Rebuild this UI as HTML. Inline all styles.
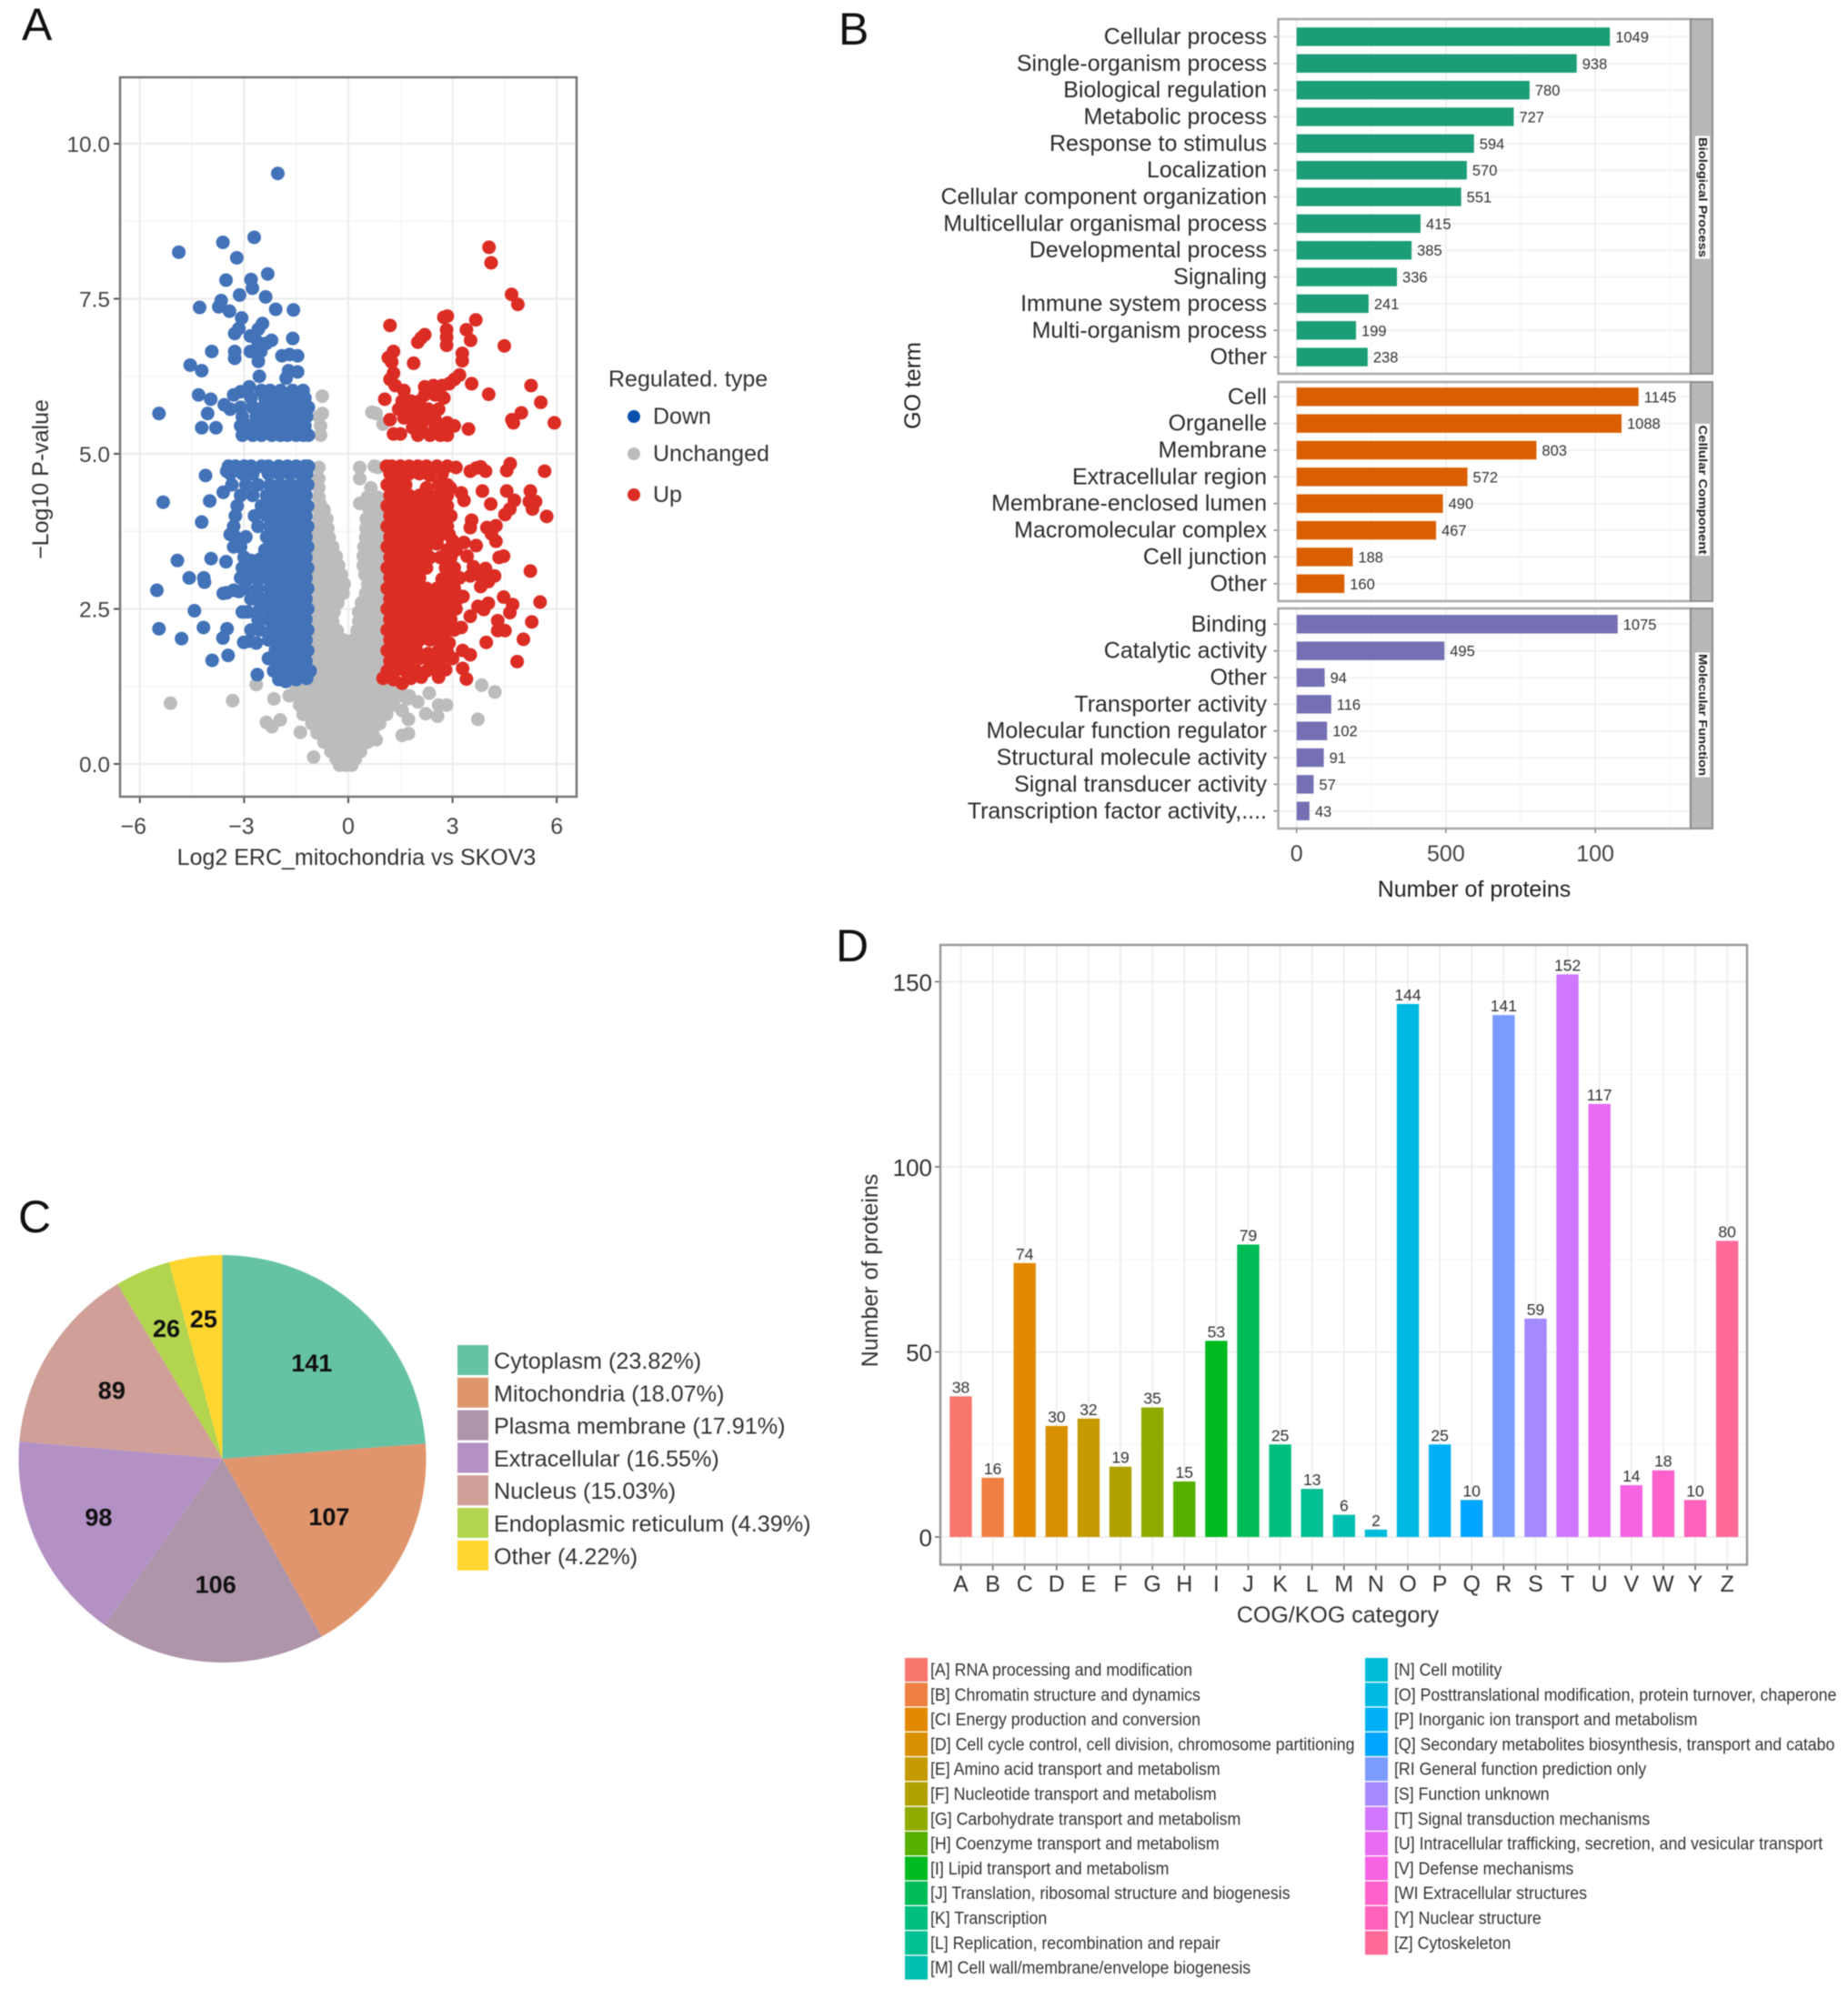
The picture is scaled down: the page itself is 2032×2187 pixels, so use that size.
<!DOCTYPE html>
<html>
<head>
<meta charset="utf-8">
<title>Proteomics figure</title>
<style>
html,body{margin:0;padding:0;background:#fff;}
svg{display:block;filter:blur(0.6px);}
text{font-family:"Liberation Sans",sans-serif;}
</style>
</head>
<body>
<svg id="fig" xmlns="http://www.w3.org/2000/svg" width="2032" height="2187" viewBox="0 0 2032 2187">
<rect x="0" y="0" width="2032" height="2187" fill="#fff"/>
<text x="24" y="44" font-size="50" fill="#111">A</text>
<text x="922" y="49" font-size="50" fill="#111">B</text>
<text x="20" y="1355" font-size="50" fill="#111">C</text>
<text x="919" y="1057" font-size="50" fill="#111">D</text>

<text x="392" y="951" font-size="25" fill="#333" text-anchor="middle">Log2 ERC_mitochondria vs SKOV3</text>
<text transform="translate(53,527) rotate(-90)" font-size="25" fill="#333" text-anchor="middle">−Log10 P-value</text>
<text x="669" y="425" font-size="25" fill="#333">Regulated. type</text>

<text x="1621" y="986" font-size="25" fill="#222" text-anchor="middle">Number of proteins</text>
<text transform="translate(1012,424) rotate(-90)" font-size="25" fill="#222" text-anchor="middle">GO term</text>

<text x="1471" y="1784" font-size="25" fill="#333" text-anchor="middle">COG/KOG category</text>
<text transform="translate(965,1397) rotate(-90)" font-size="25" fill="#333" text-anchor="middle">Number of proteins</text>
<g id="layer"></g>
</svg>
<script>
/* ---------- Panel A: volcano data (log2 ratio, -log10 p) ---------- */
const volcanoXTicks = [-6,-3,0,3,6];
const volcanoXLabels = ['−6','−3','0','3','6'];
const volcanoYTicks = [0,2.5,5,7.5,10];
const volcanoYLabels = ['0.0','2.5','5.0','7.5','10.0'];
const volcanoLegend = ['Down','Unchanged','Up'];
const unchangedPoints = [
[-5.12,.98],[-3.33,1.02],[-2.65,1.28],[-2.14,1.05],[-2.36,.67],[-1.96,.71],[-2.2,.6],[-1.38,.51],[-1,.11],[3.84,1.27],[4.22,1.16],[3.73,.72],[2.33,1.14],[2.83,.95],[2.57,.77],[2.6,.95],[2.23,.81],[2,1],[1.7,1.05],[1.55,.86],[1.73,.72],[1.55,.46],[1.73,.49],[.8,.39],
[-.75,5.93],[-.85,5.6],[-.75,5.65],[-.8,5.45],[-.8,5.3],[.68,5.67],[.8,5.65],[1,5.48],
[-.85,4.78],[.33,4.78],[.75,4.8],[.85,4.78],[-.85,4.6],[.33,4.6],[-.85,4.45],[.65,4.45],
[-.85,4.3],[.55,4.3],[.7,4.3],[.85,4.3],[-.82,4.2],[.33,4.2],[.55,4.2],[.9,4.2],
[-.85,4.1],[-.7,4.1],[.6,4.1],[.75,4.1],[.95,4.1],[-.85,3.95],[-.62,3.95],[.52,3.95],[.7,3.95],[.95,3.95],
[-.95,3.8],[-.75,3.8],[-.59,3.8],[.51,3.8],[.75,3.8],[.95,3.8],[-1,3.65],[-.75,3.65],[-.55,3.65],[.5,3.65],[.7,3.65],[.9,3.65],
[-.95,3.5],[-.65,3.5],[-.45,3.5],[.45,3.5],[.65,3.5],[.85,3.5],[-1,3.35],[-.75,3.35],[-.5,3.35],[-.35,3.35],[.43,3.35],[.6,3.35],[.8,3.35],[1,3.35],
[-1,3.2],[-.75,3.2],[-.5,3.2],[-.28,3.2],[.43,3.2],[.6,3.2],[.75,3.2],[1,3.2],[-1,3.05],[-.7,3.05],[-.45,3.05],[-.2,3.05],[.48,3.05],[.65,3.05],[.75,3.05],[1,3.05],
[-.95,2.9],[-.7,2.9],[-.45,2.9],[-.3,2.9],[-.12,2.9],[.56,2.9],[.7,2.9],[.95,2.9],[-1,2.75],[-.75,2.75],[-.5,2.75],[-.25,2.75],[-.15,2.75],[.5,2.75],[.6,2.75],[.85,2.75],[1.05,2.75],
[-.95,2.6],[-.7,2.6],[-.45,2.6],[-.3,2.6],[.38,2.6],[.6,2.6],[.85,2.6],[1.05,2.6],[-1,2.45],[-.75,2.45],[-.5,2.45],[-.41,2.45],[.3,2.45],[.55,2.45],[.8,2.45],[1.05,2.45],
[-.95,2.3],[-.7,2.3],[-.45,2.3],[.3,2.3],[.55,2.3],[.8,2.3],[1.05,2.3],[-1,2.15],[-.75,2.15],[-.5,2.15],[-.32,2.15],[.25,2.15],[.35,2.15],[.6,2.15],[.85,2.15],[1.05,2.15],
[-.95,2],[-.7,2],[-.45,2],[-.2,2],[-.15,2],[.15,2],[.45,2],[.7,2],[.95,2],[-1,1.85],[-.75,1.85],[-.5,1.85],[-.25,1.85],[.05,1.85],[.3,1.85],[.55,1.85],[.8,1.85],[1,1.85],
[-.95,1.7],[-.7,1.7],[-.45,1.7],[-.2,1.7],[0,1.7],[.25,1.7],[.5,1.7],[.75,1.7],[1,1.7],[-1,1.55],[-.75,1.55],[-.5,1.55],[-.25,1.55],[0,1.55],[.25,1.55],[.5,1.55],[.75,1.55],[1,1.55],
[-1.2,1.4],[-.95,1.4],[-.7,1.4],[-.45,1.4],[-.2,1.4],[.05,1.4],[.3,1.4],[.55,1.4],[.8,1.4],[1.05,1.4],[1.25,1.4],
[-1.5,1.25],[-1.25,1.25],[-1,1.25],[-.75,1.25],[-.5,1.25],[-.25,1.25],[0,1.25],[.25,1.25],[.5,1.25],[.75,1.25],[1,1.25],[1.25,1.25],[1.5,1.25],
[-1.7,1.1],[-1.45,1.1],[-1.2,1.1],[-.95,1.1],[-.7,1.1],[-.45,1.1],[-.2,1.1],[.05,1.1],[.3,1.1],[.55,1.1],[.8,1.1],[1.05,1.1],[1.3,1.1],[1.55,1.1],[1.75,1.1],
[-1.4,.95],[-1.15,.95],[-.9,.95],[-.65,.95],[-.4,.95],[-.15,.95],[.1,.95],[.35,.95],[.6,.95],[.85,.95],[1.1,.95],[1.3,.95],
[-1.3,.8],[-1.05,.8],[-.8,.8],[-.55,.8],[-.3,.8],[-.05,.8],[.2,.8],[.45,.8],[.7,.8],[.95,.8],[1.1,.8],
[-1.05,.65],[-.8,.65],[-.55,.65],[-.3,.65],[-.05,.65],[.2,.65],[.45,.65],[.7,.65],[.9,.65],
[-.9,.5],[-.65,.5],[-.4,.5],[-.15,.5],[.1,.5],[.35,.5],[.55,.5],[.7,.5],
[-.7,.35],[-.45,.35],[-.2,.35],[.05,.35],[.3,.35],[.55,.35],[-.5,.2],[-.25,.2],[0,.2],[.2,.2],[.35,.2],
[-.35,.08],[-.15,.08],[.05,.08],[.2,.08],[-.25,-.02],[-.08,-.02],[.1,-.02]
];
const downPoints = [
[-2.03,9.52],[-4.88,8.25],[-3.61,8.41],[-2.71,8.49],[-3.21,8.16],[-3.52,7.8],[-2.8,7.81],[-2.32,7.9],[-2.76,7.67],[-3.13,7.56],[-2.38,7.53],[-4.28,7.36],[-3.66,7.47],[-3.73,7.37],[-3.42,7.3],[-2.09,7.33],[-1.58,7.32],[-3.07,7.19],[-2.47,7.1],[-2.59,7.01],[-3.15,7.02],[-3.27,6.94],[-2.82,6.9],[-1.6,6.86],[-2.21,6.83],[-2.36,6.78],[-2.6,6.8],[-3.93,6.65],[-3.27,6.65],[-3.27,6.54],[-2.82,6.65],[-2.52,6.65],[-2.59,6.49],[-1.91,6.58],[-1.69,6.6],[-1.46,6.58],[-4.55,6.43],[-4.22,6.34],[-1.72,6.34],[-1.46,6.32],[-1.79,6.22],[-2.56,6.25],
[-4.31,5.95],[-3.96,5.88],[-4.05,5.65],[-5.45,5.65],[-4.22,5.42],[-3.81,5.42],[-3.57,5.79],[-3.3,5.95],[-3.4,5.72],[-3.1,6],[-2.85,6.08],
[-3.05,5.3],[-2.75,5.3],[-2.5,5.3],[-2.2,5.3],[-1.95,5.3],[-1.75,5.3],[-1.5,5.3],[-1.3,5.3],[-1.15,5.3],
[-3.1,5.45],[-2.85,5.45],[-2.55,5.45],[-2.3,5.45],[-2,5.45],[-1.8,5.45],[-1.55,5.45],[-1.25,5.45],
[-3.05,5.6],[-2.65,5.6],[-2.4,5.6],[-2.05,5.6],[-1.8,5.6],[-1.45,5.6],[-1.2,5.6],
[-3.1,5.75],[-2.75,5.75],[-2.45,5.75],[-2.2,5.75],[-1.9,5.75],[-1.65,5.75],[-1.35,5.75],[-1.15,5.75],
[-2.8,5.9],[-2.4,5.9],[-2.1,5.9],[-1.8,5.9],[-1.55,5.9],[-1.25,5.9],[-2.5,6.02],[-2.25,6.02],[-1.95,6.02],[-1.6,6.02],[-1.3,6.02],
[-1.15,4.8],[-1.25,4.8],[-1.5,4.8],[-1.75,4.8],[-2,4.8],[-2.3,4.8],[-2.5,4.8],[-2.8,4.8],[-3,4.8],[-3.25,4.8],[-3.45,4.8],
[-1.2,4.68],[-1.4,4.68],[-1.7,4.68],[-2,4.68],[-2.3,4.68],[-2.75,4.68],[-3.05,4.68],[-3.4,4.68],[-3.5,4.72],[-4.11,4.65],
[-1.17,4.5],[-1.35,4.5],[-1.65,4.5],[-1.95,4.5],[-2.25,4.5],[-2.6,4.5],[-2.95,4.5],[-3.35,4.5],
[-1.22,4.33],[-1.45,4.33],[-1.75,4.33],[-2.05,4.33],[-2.35,4.33],[-2.75,4.33],[-3.1,4.33],[-3.6,4.38],[-5.33,4.22],[-3.99,4.24],
[-1.17,4.16],[-1.35,4.16],[-1.65,4.16],[-1.95,4.16],[-2.25,4.16],[-2.5,4.16],[-3.2,4.16],
[-1.22,4],[-1.45,4],[-1.75,4],[-2.05,4],[-2.35,4],[-2.7,4],[-3.25,4],[-4.22,3.9],
[-1.17,3.83],[-1.35,3.83],[-1.65,3.83],[-1.95,3.83],[-2.25,3.83],[-2.6,3.83],[-3.3,3.83],
[-1.22,3.66],[-1.45,3.66],[-1.75,3.66],[-2.05,3.66],[-2.35,3.66],[-2.95,3.66],[-3.25,3.66],[-3.4,3.7],
[-1.17,3.5],[-1.35,3.5],[-1.65,3.5],[-1.95,3.5],[-2.25,3.5],[-2.4,3.45],[-3.1,3.5],[-3.3,3.5],
[-1.22,3.33],[-1.45,3.33],[-1.75,3.33],[-2.05,3.33],[-2.35,3.33],[-2.55,3.3],[-3,3.33],[-2.8,3.28],[-4.92,3.28],[-3.95,3.31],[-3.52,3.26],
[-1.17,3.16],[-1.35,3.16],[-1.65,3.16],[-1.95,3.16],[-2.25,3.16],[-2.5,3.16],[-2.8,3.12],[-3.05,3.16],
[-1.22,3],[-1.45,3],[-1.75,3],[-2.05,3],[-2.35,3],[-2.6,3],[-2.85,3],[-3.1,3],[-4.58,3],[-4.16,3],[-4.14,2.93],
[-1.17,2.83],[-1.35,2.83],[-1.65,2.83],[-1.95,2.83],[-2.25,2.83],[-2.6,2.83],[-2.95,2.83],[-3.3,2.8],[-3.5,2.76],[-3.15,2.78],[-5.51,2.8],[-3.6,2.75],
[-1.22,2.66],[-1.45,2.66],[-1.75,2.66],[-2.05,2.66],[-2.35,2.66],[-2.5,2.66],[-2.8,2.66],
[-1.17,2.5],[-1.35,2.5],[-1.65,2.5],[-1.95,2.5],[-2.25,2.5],[-2.55,2.5],[-2.9,2.45],[-4.43,2.47],[-3.05,2.45],
[-1.22,2.33],[-1.45,2.33],[-1.75,2.33],[-2.05,2.33],[-2.3,2.33],[-2.6,2.33],
[-1.17,2.16],[-1.35,2.16],[-1.65,2.16],[-1.95,2.16],[-2.2,2.16],[-2.55,2.16],[-2.8,2.16],[-5.45,2.18],[-4.17,2.2],[-3.49,2.18],
[-1.22,2],[-1.45,2],[-1.75,2],[-2.05,2],[-2.3,2],[-2.65,1.95],[-2.85,1.98],[-3.01,1.96],[-4.8,2.02],[-3.61,2.03],
[-1.17,1.83],[-1.35,1.83],[-1.65,1.83],[-1.95,1.83],[-2.1,1.83],
[-1.22,1.66],[-1.45,1.66],[-1.75,1.66],[-2.05,1.66],[-2.3,1.7],[-3.92,1.67],[-3.46,1.75],
[-1.1,1.5],[-1.35,1.5],[-1.65,1.5],[-1.95,1.5],[-2.15,1.5],[-2.62,1.44],
[-1.2,1.38],[-1.5,1.36],[-1.8,1.33],[-2,1.36]
];
const upPoints = [
[4.05,8.33],[4.11,8.08],[4.7,7.57],[4.88,7.41],[3.67,7.16],[2.85,7.22],[2.75,7.2],[1.2,7.07],[3.4,7],[2.83,7],[2.83,6.88],[2.83,6.75],[3.52,6.83],[4.49,6.74],[2.2,6.92],[2.1,6.87],[2,6.8],[1.3,6.65],[1.15,6.55],[1.25,6.48],[3.28,6.62],[3.28,6.5],[1.88,6.46],[1.3,6.3],[1.2,6.2],[3.2,6.27],[3.05,6.2],[3.55,6.13],[5.26,6.1],[4.04,5.96],[5.54,5.83],[4.98,5.66],[4.71,5.55],[4.75,5.5],[5.93,5.5],[3.46,5.4],
[1.05,5.88],[1.35,6.1],[1.6,6.02],[2.2,6.08],[2.45,6.1],[2.7,6.1],[2.9,6.13],[2.2,5.95],[2.5,5.95],[2.75,5.9],[1.55,5.85],[1.8,5.85],[2.05,5.85],[1.45,5.72],[1.75,5.72],[2,5.7],[2.3,5.72],[2.6,5.72],[1.2,5.55],[1.6,5.58],[1.9,5.55],[2.2,5.55],[2.5,5.55],[2.85,5.5],[3.05,5.45],[1.85,5.42],[2.1,5.42],[2.5,5.42],[2.75,5.38],[1.3,5.32],[1.5,5.32],[2,5.3],[2.35,5.3],[2.65,5.3],[2.85,5.3],
[5.65,4.72],[4.66,4.84],[4.56,4.73],[3.81,4.79],[3.95,4.72],[3.51,4.72],[3.68,4.77],[2.94,4.45],[3.25,4.37],[3.33,4.25],[3.86,4.4],[4.1,4.19],[4.56,4.4],[5.24,4.4],[4.78,4.25],[5.21,4.23],[5.39,4.23],[5.3,4.11],[5.71,3.99],[4.65,4.11],[4.51,4.02],[3.55,3.93],[3.51,3.81],[3.99,3.81],[4.25,3.84],[4.12,3.71],[4.25,3.59],[3.68,3.52],[3.33,3.57],[3.42,3.35],[4.47,3.35],[4.34,3.33],[5.24,3.11],[3.6,3.18],[3.95,3.15],[3.51,3.03],[3.81,3.03],[4.21,3.03],[4.03,2.94],[3.81,2.86],[4.47,2.69],[4.73,2.57],[4.65,2.44],[5.52,2.61],[3.51,2.38],[3.73,2.54],[4.03,2.59],[3.9,2.49],[5.28,2.29],[4.3,2.31],[4.3,2.15],[4.51,2.15],[3.97,1.96],[5.04,2.01],[3.29,1.83],[3.51,1.76],[4.86,1.65],[3.29,1.54],[3.4,1.37],[3.25,2.2],[3.3,2.7],
[1.1,4.8],[1.25,4.8],[1.5,4.8],[1.75,4.8],[2,4.8],[2.25,4.8],[2.55,4.8],[2.85,4.8],[3.1,4.78],[1.2,4.68],[1.45,4.68],[1.75,4.68],[2.05,4.68],[2.35,4.65],[2.7,4.68],
[1.12,4.5],[1.35,4.5],[1.65,4.5],[2.25,4.45],[2.6,4.5],[2.85,4.5],
[1.2,4.33],[1.45,4.33],[1.75,4.33],[2.05,4.33],[2.35,4.33],[2.65,4.33],[2.85,4.33],
[1.12,4.16],[1.35,4.16],[1.65,4.16],[1.95,4.16],[2.25,4.16],[2.55,4.16],[2.85,4.16],
[1.2,4],[1.45,4],[1.75,4],[2.05,4],[2.35,4],[2.65,4],[2.95,4],
[1.12,3.83],[1.35,3.83],[1.65,3.83],[1.95,3.83],[2.25,3.83],[2.55,3.83],[2.85,3.83],
[1.2,3.66],[1.45,3.66],[1.75,3.66],[2.05,3.66],[2.35,3.66],[2.6,3.66],[2.9,3.7],[3,3.6],
[1.12,3.5],[1.35,3.5],[1.65,3.5],[1.95,3.5],[2.25,3.5],[2.55,3.55],[2.85,3.45],[3.1,3.45],
[1.2,3.33],[1.45,3.33],[1.75,3.33],[2.05,3.33],[2.35,3.33],[2.65,3.33],[2.95,3.33],
[1.12,3.16],[1.35,3.16],[1.65,3.16],[1.95,3.16],[2.25,3.16],[2.8,3.16],[3.05,3.16],
[1.2,3],[1.45,3],[1.75,3],[2.05,3],[2.7,2.98],[3,3],[3.2,3],
[1.12,2.83],[1.35,2.83],[1.65,2.83],[1.95,2.83],[2.25,2.83],[2.55,2.83],[2.85,2.83],[3.05,2.83],
[1.2,2.66],[1.45,2.66],[1.75,2.66],[2.05,2.66],[2.35,2.66],[2.65,2.66],[2.95,2.66],[3.15,2.66],
[1.12,2.5],[1.35,2.5],[1.65,2.5],[1.95,2.5],[2.25,2.5],[2.55,2.5],[2.85,2.5],[3.1,2.5],
[1.2,2.33],[1.45,2.33],[1.75,2.33],[2.05,2.33],[2.35,2.33],[2.65,2.33],[2.95,2.33],
[1.12,2.16],[1.35,2.16],[1.65,2.16],[1.95,2.16],[2.25,2.16],[2.55,2.16],[2.85,2.16],[3.05,2.16],
[1.2,2],[1.45,2],[1.75,2],[2.05,2],[2.35,2],[2.65,2],[2.9,1.95],
[1.12,1.83],[1.35,1.83],[1.65,1.83],[1.95,1.85],[2.3,1.78],[2.6,1.83],[2.85,1.8],
[1.2,1.66],[1.45,1.66],[1.75,1.66],[2.05,1.7],[2.35,1.66],[2.65,1.66],[3,1.7],
[1.12,1.5],[1.35,1.5],[1.65,1.5],[1.95,1.5],[2.25,1.5],[2.55,1.5],[2.8,1.52],
[1,1.38],[1.3,1.36],[1.55,1.3],[1.8,1.38],[2.1,1.4],[2.6,1.4]
];

/* ---------- Panel B: GO term data ---------- */
const bpTerms = ['Cellular process','Single-organism process','Biological regulation','Metabolic process','Response to stimulus','Localization','Cellular component organization','Multicellular organismal process','Developmental process','Signaling','Immune system process','Multi-organism process','Other'];
const bpValues = [1049,938,780,727,594,570,551,415,385,336,241,199,238];
const ccTerms = ['Cell','Organelle','Membrane','Extracellular region','Membrane-enclosed lumen','Macromolecular complex','Cell junction','Other'];
const ccValues = [1145,1088,803,572,490,467,188,160];
const mfTerms = ['Binding','Catalytic activity','Other','Transporter activity','Molecular function regulator','Structural molecule activity','Signal transducer activity','Transcription factor activity,....'];
const mfValues = [1075,495,94,116,102,91,57,43];
const goTicks = [0,500,1000];
const goTickLabels = ['0','500','100'];

/* ---------- Panel C: pie data ---------- */
const pieLabels = ['Cytoplasm (23.82%)','Mitochondria (18.07%)','Plasma membrane (17.91%)','Extracellular (16.55%)','Nucleus (15.03%)','Endoplasmic reticulum (4.39%)','Other (4.22%)'];
const pieValues = [141,107,106,98,89,26,25];

/* ---------- Panel D: COG/KOG data ---------- */
const cogCategories = ['A','B','C','D','E','F','G','H','I','J','K','L','M','N','O','P','Q','R','S','T','U','V','W','Y','Z'];
const cogValues = [38,16,74,30,32,19,35,15,53,79,25,13,6,2,144,25,10,141,59,152,117,14,18,10,80];
const cogTicks = [0,50,100,150];
const cogLegendLeft = ['[A] RNA processing and modification','[B] Chromatin structure and dynamics','[CI Energy production and conversion','[D] Cell cycle control, cell division, chromosome partitioning','[E] Amino acid transport and metabolism','[F] Nucleotide transport and metabolism','[G] Carbohydrate transport and metabolism','[H] Coenzyme transport and metabolism','[I] Lipid transport and metabolism','[J] Translation, ribosomal structure and biogenesis','[K] Transcription','[L] Replication, recombination and repair','[M] Cell wall/membrane/envelope biogenesis'];
const cogLegendRight = ['[N] Cell motility','[O] Posttranslational modification, protein turnover, chaperone','[P] Inorganic ion transport and metabolism','[Q] Secondary metabolites biosynthesis, transport and catabo','[RI General function prediction only','[S] Function unknown','[T] Signal transduction mechanisms','[U] Intracellular trafficking, secretion, and vesicular transport','[V] Defense mechanisms','[WI Extracellular structures','[Y] Nuclear structure','[Z] Cytoskeleton'];

const SVGNS = 'http://www.w3.org/2000/svg';
const layer = document.getElementById('layer');
function make(tag, attrs, txt){
  const e = document.createElementNS(SVGNS, tag);
  for(const k in attrs){ e.setAttribute(k, attrs[k]); }
  if(txt !== undefined){ e.textContent = txt; }
  layer.appendChild(e);
  return e;
}

/* ---------- Volcano ---------- */
(function(){
  const L=132,R=634,T=85,B=876;
  const sx = v => 383 + v*38.2;
  const sy = v => 840 - v*68.2;
  const dotR = 7.5;
  let el;
  el = make('rect',{x:L,y:T,width:R-L,height:B-T,fill:'#fff'});
  
  
  [-4.5,-1.5,1.5,4.5].forEach(v=>{
    el = make('line',{x1:sx(v),x2:sx(v),y1:T,y2:B,stroke:'#f2f2f2','stroke-width':1});
    
    
  });
  [1.25,3.75,6.25,8.75].forEach(v=>{
    el = make('line',{x1:L,x2:R,y1:sy(v),y2:sy(v),stroke:'#f2f2f2','stroke-width':1});
    
    
  });
  volcanoXTicks.forEach((v,i)=>{
    el = make('line',{x1:sx(v),x2:sx(v),y1:T,y2:B,stroke:'#ebebeb','stroke-width':2});
    
    
    el = make('line',{x1:sx(v),x2:sx(v),y1:B,y2:B+7,stroke:'#555','stroke-width':2});
    
    
    el = make('text',{x:sx(v)-(v<-4?7:(v<0?3:0)),y:917,'font-size':25,fill:'#444','text-anchor':'middle'},volcanoXLabels[i]);
    
    
  });
  volcanoYTicks.forEach((v,i)=>{
    el = make('line',{x1:L,x2:R,y1:sy(v),y2:sy(v),stroke:'#ebebeb','stroke-width':2});
    
    
    el = make('line',{x1:L-7,x2:L,y1:sy(v),y2:sy(v),stroke:'#555','stroke-width':2});
    
    
    el = make('text',{x:L-11,y:sy(v)+9,'font-size':24.5,fill:'#444','text-anchor':'end'},volcanoYLabels[i]);
    
    
  });
  unchangedPoints.forEach(p=>{
    el = make('circle',{cx:sx(p[0]),cy:sy(p[1]),r:dotR,fill:'#bcbcbc'});
    
    
  });
  downPoints.forEach(p=>{
    el = make('circle',{cx:sx(p[0]),cy:sy(p[1]),r:dotR,fill:'#4272b8'});
    
    
  });
  upPoints.forEach(p=>{
    el = make('circle',{cx:sx(p[0]),cy:sy(p[1]),r:dotR,fill:'#dc2d25'});
    
    
  });
  el = make('rect',{x:L,y:T,width:R-L,height:B-T,fill:'none',stroke:'#777','stroke-width':2.5});
  
  
  const legColors = ['#0b4fae','#bcbcbc','#dc2d25'];
  const legY = [458,499,544];
  volcanoLegend.forEach((t,i)=>{
    el = make('circle',{cx:697,cy:legY[i],r:7,fill:legColors[i]});
    
    
    el = make('text',{x:718,y:legY[i]+8,'font-size':25,fill:'#333'},t);
    
    
  });
})();

/* ---------- GO bars ---------- */
(function(){
  const L=1405.5,R=1859,SR=1883;
  const sx = v => 1425.7 + v*0.3284;
  const panels = [
    {terms:bpTerms,vals:bpValues,top:21,bot:411,y0:40.4,color:'#1b9e77',name:'Biological Process',bh:135,tl:132,dy:1},
    {terms:ccTerms,vals:ccValues,top:420,bot:661,y0:436.3,color:'#d95f02',name:'Cellular Component',bh:145,tl:142,dy:-2},
    {terms:mfTerms,vals:mfValues,top:669,bot:911,y0:686.3,color:'#7570b3',name:'Molecular Function',bh:137,tl:134,dy:-4}
  ];
  const rowH = 29.35;
  let el;
  panels.forEach(p=>{
    el = make('rect',{x:L,y:p.top,width:R-L,height:p.bot-p.top,fill:'#fff'});
    
    
    [250,750,1250].forEach(v=>{
      el = make('line',{x1:sx(v),x2:sx(v),y1:p.top,y2:p.bot,stroke:'#f4f4f4','stroke-width':1});
      
      
    });
    goTicks.forEach(v=>{
      el = make('line',{x1:sx(v),x2:sx(v),y1:p.top,y2:p.bot,stroke:'#ececec','stroke-width':1.5});
      
      
    });
    p.terms.forEach((t,i)=>{
      const cy = p.y0 + i*rowH;
      el = make('line',{x1:L,x2:R,y1:cy,y2:cy,stroke:'#efefef','stroke-width':1.5});
      
      
      el = make('line',{x1:L-5,x2:L,y1:cy,y2:cy,stroke:'#888','stroke-width':1.5});
      
      
      el = make('rect',{x:sx(0),y:cy-10.2,width:sx(p.vals[i])-sx(0),height:20.4,fill:p.color});
      
      
      el = make('text',{x:sx(p.vals[i])+6,y:cy+6,'font-size':16.5,fill:'#333'},String(p.vals[i]));
      
      
      el = make('text',{x:1393,y:cy+8,'font-size':25,fill:'#2b2b2b','text-anchor':'end'},t);
      
      
    });
    el = make('rect',{x:L,y:p.top,width:R-L,height:p.bot-p.top,fill:'none',stroke:'#a9a9a9','stroke-width':2.5});
    
    
    el = make('rect',{x:R,y:p.top,width:SR-R,height:p.bot-p.top,fill:'#b8b8b8',stroke:'#8e8e8e','stroke-width':2});
    
    
    const my=(p.top+p.bot)/2+p.dy;
    el = make('rect',{x:R+5,y:my-p.bh/2,width:16,height:p.bh,fill:'#fff'});
    
    
    el = make('text',{transform:'translate('+(R+9)+','+my+') rotate(90)','font-size':12.5,'font-weight':'bold',fill:'#222','text-anchor':'middle',textLength:p.tl,lengthAdjust:'spacingAndGlyphs'},p.name);
    
    
  });
  goTicks.forEach((v,i)=>{
    el = make('line',{x1:sx(v),x2:sx(v),y1:911,y2:916,stroke:'#888','stroke-width':1.5});
    
    
    el = make('text',{x:sx(v),y:947,'font-size':25,fill:'#444','text-anchor':'middle'},goTickLabels[i]);
    
    
  });
})();

/* ---------- Pie ---------- */
(function(){
  const cx=244.5,cy=1604,r=224;
  const colors=['#66c2a5','#e0956c','#ae95aa','#b491c5','#cf9f98','#b2d44f','#ffd62f'];
  const labelRadius=[.645,.595,.615,.67,.64,.7,.695];
  const total=pieValues.reduce((a,b)=>a+b,0);
  let cum=0,el;
  pieValues.forEach((v,i)=>{
    const a0=cum/total*2*Math.PI, a1=(cum+v)/total*2*Math.PI;
    cum+=v;
    const d='M'+cx+' '+cy+'L'+(cx+r*Math.sin(a0))+' '+(cy-r*Math.cos(a0))+'A'+r+' '+r+' 0 '+((a1-a0)>Math.PI?1:0)+' 1 '+(cx+r*Math.sin(a1))+' '+(cy-r*Math.cos(a1))+'Z';
    el = make('path',{d:d,fill:colors[i]});
    
    
  });
  cum=0;
  pieValues.forEach((v,i)=>{
    const m=(cum+v/2)/total*2*Math.PI;
    cum+=v;
    el = make('text',{x:cx+r*labelRadius[i]*Math.sin(m),y:cy-r*labelRadius[i]*Math.cos(m)+10,'font-size':27,'font-weight':'bold',fill:'#111','text-anchor':'middle'},String(v));
    
    
  });
  pieLabels.forEach((t,i)=>{
    const y=1496+i*35.8;
    el = make('rect',{x:503,y:y-17,width:34,height:33,fill:colors[i]});
    
    
    el = make('text',{x:543,y:y+9,'font-size':25.2,fill:'#333'},t);
    
    
  });
})();

/* ---------- COG bars ---------- */
(function(){
  const L=1034,R=1921,T=1039,B=1720.5;
  const colors=['#f8766d','#ee8042','#e38900','#d89000','#c49a00','#b0a100','#8fab00','#55b000','#00ba20','#00bc56','#00bf7d','#00c094','#00bfb0','#00bcd8','#00b9e3','#00b0f6','#00a5ff','#7b9cff','#a58aff','#cf78ff','#e76bf3','#f564e3','#ff61cc','#ff62bc','#ff6a98'];
  const sx = i => 1056.5 + i*35.11;
  const sy = v => 1690 - v*4.07;
  let el;
  [25,75,125].forEach(v=>{
    el = make('line',{x1:L,x2:R,y1:sy(v),y2:sy(v),stroke:'#f5f5f5','stroke-width':1});
    
    
  });
  cogTicks.forEach(v=>{
    el = make('line',{x1:L,x2:R,y1:sy(v),y2:sy(v),stroke:'#ebebeb','stroke-width':1.5});
    
    
    el = make('line',{x1:L-6,x2:L,y1:sy(v),y2:sy(v),stroke:'#666','stroke-width':1.5});
    
    
    el = make('text',{x:L-9,y:sy(v)+10,'font-size':26,fill:'#333','text-anchor':'end'},String(v));
    
    
  });
  cogCategories.forEach((c,i)=>{
    el = make('line',{x1:sx(i),x2:sx(i),y1:T,y2:B,stroke:'#ebebeb','stroke-width':1.5});
    
    
    el = make('rect',{x:sx(i)-12.2,y:sy(cogValues[i]),width:24.4,height:sy(0)-sy(cogValues[i]),fill:colors[i]});
    
    
    el = make('text',{x:sx(i),y:sy(cogValues[i])-4,'font-size':17.5,fill:'#333','text-anchor':'middle'},String(cogValues[i]));
    
    
    el = make('line',{x1:sx(i),x2:sx(i),y1:B,y2:B+6,stroke:'#666','stroke-width':1.5});
    
    
    el = make('text',{x:sx(i),y:1750,'font-size':25,fill:'#333','text-anchor':'middle'},c);
    
    
  });
  el = make('rect',{x:L,y:T,width:R-L,height:B-T,fill:'none',stroke:'#9a9a9a','stroke-width':2.5});
  
  
  /* legend text is horizontally condensed: measure the widest label and fit it to its drawn width */
  const probe = make('text',{x:0,y:0,'font-size':19},cogLegendLeft[3]);
  const measured = probe.getComputedTextLength();
  layer.removeChild(probe);
  const k = measured > 0 ? 467/measured : 0.86;
  cogLegendLeft.forEach((t,i)=>{
    const y=1836+i*27.3;
    el = make('rect',{x:995,y:y-13,width:25,height:26,fill:colors[i]});
    
    
    el = make('text',{transform:'translate(1023,'+(y+6.5)+') scale('+k+',1)','font-size':19,fill:'#333'},t);
    
    
  });
  cogLegendRight.forEach((t,i)=>{
    const y=1836+i*27.3;
    el = make('rect',{x:1501,y:y-13,width:25,height:26,fill:colors[i+13]});
    
    
    el = make('text',{transform:'translate(1533,'+(y+6.5)+') scale('+k+',1)','font-size':19,fill:'#333'},t);
    
    
  });
})();
</script>
</body>
</html>
